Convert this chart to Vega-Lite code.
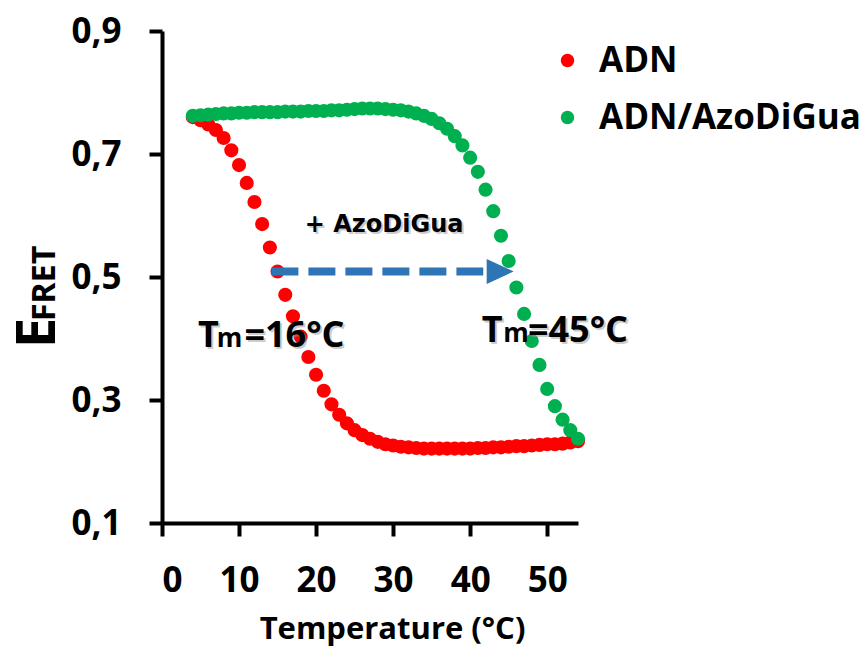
{
  "$schema": "https://vega.github.io/schema/vega-lite/v6.json",
  "width": 416,
  "height": 492,
  "autosize": {"type": "none"},
  "padding": {"left": 162, "top": 31, "right": 283, "bottom": 129},
  "background": "white",
  "config": {"view": {"stroke": null}},
  "encoding": {
    "x": {"field": "x", "type": "quantitative",
      "scale": {"domain": [0, 54], "nice": false, "zero": false},
      "axis": {"values": [0, 10, 20, 30, 40, 50], "grid": false, "domainColor": "black", "domainWidth": 4, "tickColor": "black", "tickWidth": 4, "tickSize": 13,
        "labelFont": "Open Sans", "labelFontWeight": "bold", "labelFontSize": 35, "labelColor": "black", "labelPadding": 27,
        "title": "Temperature (°C)", "titleFont": "Open Sans", "titleFontWeight": "bold", "titleFontSize": 31, "titleColor": "black", "titlePadding": 16, "titleX": 230}},
    "y": {"field": "y", "type": "quantitative",
      "scale": {"domain": [0.1, 0.9], "nice": false, "zero": false},
      "axis": {"values": [0.1, 0.3, 0.5, 0.7, 0.9], "grid": false, "domainColor": "black", "domainWidth": 4, "tickColor": "black", "tickWidth": 4, "tickSize": 13,
        "labelExpr": "replace(format(datum.value, '.1f'), '.', ',')",
        "labelFont": "Open Sans", "labelFontWeight": "bold", "labelFontSize": 35, "labelColor": "black", "labelPadding": 28, "title": null}}
  },
  "layer": [
    {
      "data": {"values": [
        {"x":4,"y":0.760,"s":"ADN"},{"x":5,"y":0.755,"s":"ADN"},{"x":6,"y":0.748,"s":"ADN"},{"x":7,"y":0.739,"s":"ADN"},{"x":8,"y":0.726,"s":"ADN"},{"x":9,"y":0.706,"s":"ADN"},{"x":10,"y":0.682,"s":"ADN"},{"x":11,"y":0.653,"s":"ADN"},{"x":12,"y":0.622,"s":"ADN"},{"x":13,"y":0.586,"s":"ADN"},{"x":14,"y":0.548,"s":"ADN"},{"x":15,"y":0.509,"s":"ADN"},{"x":16,"y":0.471,"s":"ADN"},{"x":17,"y":0.436,"s":"ADN"},{"x":18,"y":0.403,"s":"ADN"},{"x":19,"y":0.370,"s":"ADN"},{"x":20,"y":0.341,"s":"ADN"},{"x":21,"y":0.315,"s":"ADN"},{"x":22,"y":0.293,"s":"ADN"},{"x":23,"y":0.276,"s":"ADN"},{"x":24,"y":0.262,"s":"ADN"},{"x":25,"y":0.251,"s":"ADN"},{"x":26,"y":0.243,"s":"ADN"},{"x":27,"y":0.237,"s":"ADN"},{"x":28,"y":0.232,"s":"ADN"},{"x":29,"y":0.228,"s":"ADN"},{"x":30,"y":0.226,"s":"ADN"},{"x":31,"y":0.224,"s":"ADN"},{"x":32,"y":0.223,"s":"ADN"},{"x":33,"y":0.222,"s":"ADN"},{"x":34,"y":0.221,"s":"ADN"},{"x":35,"y":0.221,"s":"ADN"},{"x":36,"y":0.221,"s":"ADN"},{"x":37,"y":0.221,"s":"ADN"},{"x":38,"y":0.221,"s":"ADN"},{"x":39,"y":0.221,"s":"ADN"},{"x":40,"y":0.221,"s":"ADN"},{"x":41,"y":0.222,"s":"ADN"},{"x":42,"y":0.222,"s":"ADN"},{"x":43,"y":0.223,"s":"ADN"},{"x":44,"y":0.223,"s":"ADN"},{"x":45,"y":0.224,"s":"ADN"},{"x":46,"y":0.225,"s":"ADN"},{"x":47,"y":0.225,"s":"ADN"},{"x":48,"y":0.226,"s":"ADN"},{"x":49,"y":0.227,"s":"ADN"},{"x":50,"y":0.228,"s":"ADN"},{"x":51,"y":0.228,"s":"ADN"},{"x":52,"y":0.229,"s":"ADN"},{"x":53,"y":0.231,"s":"ADN"},{"x":54,"y":0.233,"s":"ADN"},
        {"x":4,"y":0.762,"s":"ADN/AzoDiGua"},{"x":5,"y":0.763,"s":"ADN/AzoDiGua"},{"x":6,"y":0.764,"s":"ADN/AzoDiGua"},{"x":7,"y":0.765,"s":"ADN/AzoDiGua"},{"x":8,"y":0.766,"s":"ADN/AzoDiGua"},{"x":9,"y":0.766,"s":"ADN/AzoDiGua"},{"x":10,"y":0.767,"s":"ADN/AzoDiGua"},{"x":11,"y":0.767,"s":"ADN/AzoDiGua"},{"x":12,"y":0.768,"s":"ADN/AzoDiGua"},{"x":13,"y":0.768,"s":"ADN/AzoDiGua"},{"x":14,"y":0.768,"s":"ADN/AzoDiGua"},{"x":15,"y":0.768,"s":"ADN/AzoDiGua"},{"x":16,"y":0.769,"s":"ADN/AzoDiGua"},{"x":17,"y":0.769,"s":"ADN/AzoDiGua"},{"x":18,"y":0.769,"s":"ADN/AzoDiGua"},{"x":19,"y":0.770,"s":"ADN/AzoDiGua"},{"x":20,"y":0.770,"s":"ADN/AzoDiGua"},{"x":21,"y":0.770,"s":"ADN/AzoDiGua"},{"x":22,"y":0.771,"s":"ADN/AzoDiGua"},{"x":23,"y":0.771,"s":"ADN/AzoDiGua"},{"x":24,"y":0.772,"s":"ADN/AzoDiGua"},{"x":25,"y":0.773,"s":"ADN/AzoDiGua"},{"x":26,"y":0.774,"s":"ADN/AzoDiGua"},{"x":27,"y":0.774,"s":"ADN/AzoDiGua"},{"x":28,"y":0.774,"s":"ADN/AzoDiGua"},{"x":29,"y":0.773,"s":"ADN/AzoDiGua"},{"x":30,"y":0.772,"s":"ADN/AzoDiGua"},{"x":31,"y":0.771,"s":"ADN/AzoDiGua"},{"x":32,"y":0.769,"s":"ADN/AzoDiGua"},{"x":33,"y":0.766,"s":"ADN/AzoDiGua"},{"x":34,"y":0.762,"s":"ADN/AzoDiGua"},{"x":35,"y":0.757,"s":"ADN/AzoDiGua"},{"x":36,"y":0.750,"s":"ADN/AzoDiGua"},{"x":37,"y":0.741,"s":"ADN/AzoDiGua"},{"x":38,"y":0.729,"s":"ADN/AzoDiGua"},{"x":39,"y":0.714,"s":"ADN/AzoDiGua"},{"x":40,"y":0.694,"s":"ADN/AzoDiGua"},{"x":41,"y":0.671,"s":"ADN/AzoDiGua"},{"x":42,"y":0.642,"s":"ADN/AzoDiGua"},{"x":43,"y":0.607,"s":"ADN/AzoDiGua"},{"x":44,"y":0.567,"s":"ADN/AzoDiGua"},{"x":45,"y":0.526,"s":"ADN/AzoDiGua"},{"x":46,"y":0.483,"s":"ADN/AzoDiGua"},{"x":47,"y":0.440,"s":"ADN/AzoDiGua"},{"x":48,"y":0.396,"s":"ADN/AzoDiGua"},{"x":49,"y":0.357,"s":"ADN/AzoDiGua"},{"x":50,"y":0.318,"s":"ADN/AzoDiGua"},{"x":51,"y":0.290,"s":"ADN/AzoDiGua"},{"x":52,"y":0.268,"s":"ADN/AzoDiGua"},{"x":53,"y":0.251,"s":"ADN/AzoDiGua"},{"x":54,"y":0.237,"s":"ADN/AzoDiGua"}
      ]},
      "mark": {"type": "point", "filled": true, "size": 200, "opacity": 1},
      "encoding": {
        "color": {"field": "s", "type": "nominal",
          "scale": {"domain": ["ADN", "ADN/AzoDiGua"], "range": ["#FF0000", "#00B050"]},
          "legend": {"title": null, "orient": "none", "legendX": 388, "legendY": 12, "padding": 0,
            "symbolType": "circle", "symbolSize": 180, "symbolStrokeWidth": 0, "symbolOpacity": 1,
            "labelFont": "Open Sans", "labelFontWeight": "bold", "labelFontSize": 35, "labelColor": "black",
            "labelOffset": 14, "rowPadding": 21, "labelLimit": 400}}
      }
    },
    {
      "data": {"values": [{"x": 14.2, "x2": 41.7, "y": 0.509}]},
      "mark": {"type": "rule", "strokeWidth": 8, "strokeDash": [27, 10], "strokeCap": "butt", "color": "#2E75B6"},
      "encoding": {"x2": {"field": "x2"}}
    },
    {
      "data": {"values": [{"x": 43.9, "y": 0.509}]},
      "mark": {"type": "point", "shape": "M-1,-0.92L1,0L-1,0.92Z", "size": 729, "filled": true, "color": "#2E75B6", "opacity": 1}
    },
    {
      "data": {"values": [{"x": 28.83, "y": 0.5737, "label": "+ AzoDiGua"}]},
      "mark": {"type": "text", "font": "DejaVu Sans", "fontWeight": "bold", "fontSize": 24, "align": "center", "baseline": "alphabetic", "color": "#9a9a9a", "opacity": 0.5, "dx": 2, "dy": 2},
      "encoding": {"text": {"field": "label"}}
    },
    {
      "data": {"values": [{"x": 28.83, "y": 0.5737, "label": "+ AzoDiGua"}]},
      "mark": {"type": "text", "font": "DejaVu Sans", "fontWeight": "bold", "fontSize": 24, "align": "center", "baseline": "alphabetic", "color": "black"},
      "encoding": {"text": {"field": "label"}}
    },
    {
      "data": {"values": [
        {"x": 4.68, "y": 0.3867, "label": "T"},
        {"x": 10.7, "y": 0.3867, "label": "=16°C"},
        {"x": 41.5, "y": 0.3948, "label": "T"},
        {"x": 47.5, "y": 0.3948, "label": "=45°C"}
      ]},
      "mark": {"type": "text", "font": "Open Sans", "fontWeight": "bold", "fontSize": 36, "align": "left", "baseline": "alphabetic", "color": "#9a9a9a", "opacity": 0.5, "dx": 2, "dy": 2},
      "encoding": {"text": {"field": "label"}}
    },
    {
      "data": {"values": [
        {"x": 4.68, "y": 0.3867, "label": "T"},
        {"x": 10.7, "y": 0.3867, "label": "=16°C"},
        {"x": 41.5, "y": 0.3948, "label": "T"},
        {"x": 47.5, "y": 0.3948, "label": "=45°C"}
      ]},
      "mark": {"type": "text", "font": "Open Sans", "fontWeight": "bold", "fontSize": 36, "align": "left", "baseline": "alphabetic", "color": "black"},
      "encoding": {"text": {"field": "label"}}
    },
    {
      "data": {"values": [
        {"x": 7.1, "y": 0.3867, "label": "m"},
        {"x": 44.3, "y": 0.3948, "label": "m"}
      ]},
      "mark": {"type": "text", "font": "Open Sans", "fontWeight": "bold", "fontSize": 26, "align": "left", "baseline": "alphabetic", "color": "black"},
      "encoding": {"text": {"field": "label"}}
    },
    {
      "data": {"values": [{"x": -13.9, "y": 0.3846, "label": "E"}]},
      "mark": {"type": "text", "font": "Open Sans", "fontWeight": "bold", "fontSize": 54, "angle": 270, "align": "left", "baseline": "alphabetic", "color": "black"},
      "encoding": {"text": {"field": "label"}}
    },
    {
      "data": {"values": [{"x": -13.9, "y": 0.4285, "label": "FRET"}]},
      "mark": {"type": "text", "font": "Open Sans", "fontWeight": "bold", "fontSize": 32, "angle": 270, "align": "left", "baseline": "alphabetic", "color": "black"},
      "encoding": {"text": {"field": "label"}}
    }
  ]
}
